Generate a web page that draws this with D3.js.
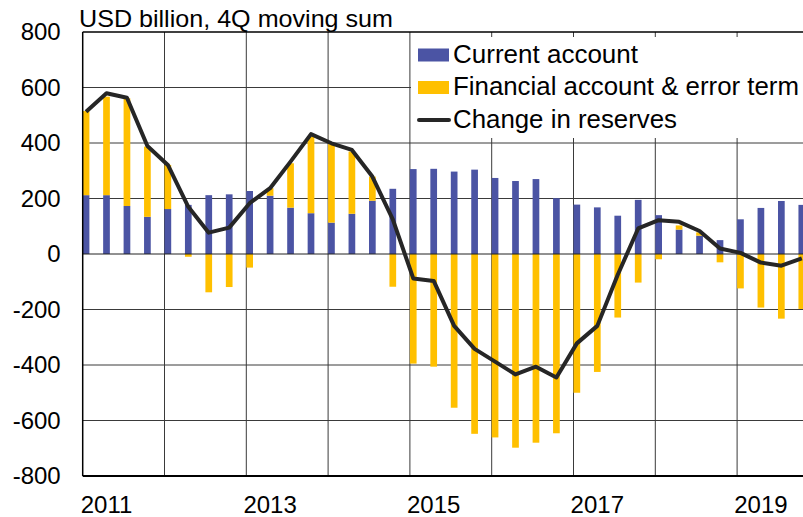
<!DOCTYPE html>
<html>
<head>
<meta charset="utf-8">
<script src="https://cdn.jsdelivr.net/npm/d3@7"></script>
<style>
  body { margin: 0; background: #fff; }
  text { font-family: "Liberation Sans", Arial, sans-serif; fill: #000; }
</style>
</head>
<body>
<div id="chart"></div>
<script>
// quarters, 2011Q1 .. 2019Q4
let quarters = [
  "2011Q1","2011Q2","2011Q3","2011Q4","2012Q1","2012Q2","2012Q3","2012Q4",
  "2013Q1","2013Q2","2013Q3","2013Q4","2014Q1","2014Q2","2014Q3","2014Q4",
  "2015Q1","2015Q2","2015Q3","2015Q4","2016Q1","2016Q2","2016Q3","2016Q4",
  "2017Q1","2017Q2","2017Q3","2017Q4","2018Q1","2018Q2","2018Q3","2018Q4",
  "2019Q1","2019Q2","2019Q3","2019Q4"
]
let years = [2011, 2012, 2013, 2014, 2015, 2016, 2017, 2018, 2019]
let yearLabels = [2011, 2013, 2015, 2017, 2019]
let yTicks = [-800, -600, -400, -200, 0, 200, 400, 600, 800]

let currentAccount = [212,212,173,134,162,177,212,215,227,210,167,147,113,145,192,235,
  306,307,297,304,274,263,270,201,178,168,138,195,140,88,66,50,125,166,191,177]
let financialAccount = [303,355,388,253,159,-10,-138,-119,-49,27,160,276,283,224,87,-118,
  -395,-406,-554,-648,-661,-698,-680,-646,-500,-425,-229,-103,-19,15,12,-30,-124,-193,-233,-198]
let reserves = [513,579,563,389,321,170,77,95,183,237,333,432,399,375,279,125,
  -88,-97,-259,-342,-388,-434,-406,-445,-322,-259,-75,92,122,116,83,20,4,-31,-42,-16]

let svgWidth = 803, svgHeight = 517
let plot = { left: 82.7, top: 32, bottom: 476, right: 803 }
let step = 20.45
let barW = 6.7

let svg = d3.select("#chart").append("svg")
  .attr("width", svgWidth)
  .attr("height", svgHeight)

// quarter index -> start of quarter slot
let x = d3.scaleLinear()
  .domain([0, quarters.length])
  .range([plot.left, plot.left + quarters.length * step])
let y = d3.scaleLinear()
  .domain([-800, 800])
  .range([plot.bottom, plot.top])

let data = quarters.map((q, i) => ({
  q: q, i: i, ca: currentAccount[i], fa: financialAccount[i], res: reserves[i]
}))

// gridlines
let grid = svg.append("g")
grid.selectAll(".hgrid")
  .data(yTicks.filter(v => v > -800 && v < 800 && v !== 0))
  .enter().append("line")
  .attr("x1", plot.left).attr("x2", plot.right)
  .attr("y1", d => y(d)).attr("y2", d => y(d))
  .attr("stroke", "#3a3a3a").attr("stroke-width", 1)
grid.selectAll(".vgrid")
  .data(years.slice(1))
  .enter().append("line")
  .attr("x1", d => x((d - 2011) * 4)).attr("x2", d => x((d - 2011) * 4))
  .attr("y1", plot.top).attr("y2", plot.bottom)
  .attr("stroke", "#3a3a3a").attr("stroke-width", 1)

// current account bars
svg.append("g").selectAll("rect")
  .data(data)
  .enter().append("rect")
  .attr("x", d => x(d.i))
  .attr("width", barW)
  .attr("y", d => y(d.ca))
  .attr("height", d => y(0) - y(d.ca))
  .attr("fill", "#4b54a4")

// financial account bars, stacked on the current account when positive
svg.append("g").selectAll("rect")
  .data(data)
  .enter().append("rect")
  .attr("x", d => x(d.i))
  .attr("width", barW)
  .attr("y", d => d.fa >= 0 ? y(d.ca + d.fa) : y(0))
  .attr("height", d => Math.abs(y(0) - y(d.fa)))
  .attr("fill", "#ffc000")

// zero line
svg.append("line")
  .attr("x1", plot.left).attr("x2", plot.right)
  .attr("y1", y(0)).attr("y2", y(0))
  .attr("stroke", "#222").attr("stroke-width", 1)

// change in reserves
let line = d3.line()
  .x(d => x(d.i) + barW / 2)
  .y(d => y(d.res))
svg.append("path")
  .datum(data)
  .attr("d", line)
  .attr("fill", "none")
  .attr("stroke", "#262626")
  .attr("stroke-width", 4)
  .attr("stroke-linejoin", "round")

// frame
svg.append("line")
  .attr("x1", plot.left).attr("x2", plot.right)
  .attr("y1", plot.top).attr("y2", plot.top)
  .attr("stroke", "#000").attr("stroke-width", 1.5)
svg.append("line")
  .attr("x1", plot.left).attr("x2", plot.right)
  .attr("y1", plot.bottom).attr("y2", plot.bottom)
  .attr("stroke", "#000").attr("stroke-width", 2)
svg.append("line")
  .attr("x1", plot.left).attr("x2", plot.left)
  .attr("y1", plot.top).attr("y2", plot.bottom)
  .attr("stroke", "#000").attr("stroke-width", 1.5)

// y axis labels (plain hyphen for negatives, as in the original)
let leftAxis = d3.axisLeft(y).tickValues(yTicks).tickSize(0).tickPadding(22)
  .tickFormat(d => String(d))
let yAxis = svg.append("g")
  .attr("transform", `translate(${plot.left}, 0)`)
  .call(leftAxis)
yAxis.select(".domain").remove()
yAxis.selectAll("text")
  .attr("font-size", 24)
  .attr("font-family", "Liberation Sans, Arial, sans-serif")
  .attr("fill", "#000")

// x axis labels, centred on the second quarter of each labelled year
svg.append("g").selectAll("text")
  .data(yearLabels)
  .enter().append("text")
  .attr("x", d => x((d - 2011) * 4 + 1) + barW / 2)
  .attr("y", 513)
  .attr("text-anchor", "middle")
  .attr("font-size", 24)
  .text(d => d)

// title
svg.append("text")
  .attr("x", 79)
  .attr("y", 27)
  .attr("font-size", 24)
  .attr("textLength", 314)
  .attr("lengthAdjust", "spacingAndGlyphs")
  .text("USD billion, 4Q moving sum")

// legend
let legend = svg.append("g")
legend.append("rect")
  .attr("x", 411).attr("y", 37)
  .attr("width", 392).attr("height", 101)
  .attr("fill", "#fff")
legend.append("rect")
  .attr("x", 418).attr("y", 48.5).attr("width", 31).attr("height", 13)
  .attr("fill", "#4b54a4")
legend.append("rect")
  .attr("x", 418).attr("y", 81).attr("width", 31).attr("height", 13)
  .attr("fill", "#ffc000")
legend.append("line")
  .attr("x1", 419).attr("x2", 449)
  .attr("y1", 120).attr("y2", 120)
  .attr("stroke", "#262626").attr("stroke-width", 4)
  .attr("stroke-linecap", "round")
let legendItems = [
  { label: "Current account", y: 62.5, w: 185 },
  { label: "Financial account & error term", y: 95, w: 346 },
  { label: "Change in reserves", y: 128, w: 224 }
]
legend.selectAll(".lt")
  .data(legendItems)
  .enter().append("text")
  .attr("x", 453)
  .attr("y", d => d.y)
  .attr("font-size", 25)
  .attr("textLength", d => d.w)
  .attr("lengthAdjust", "spacingAndGlyphs")
  .text(d => d.label)
</script>
</body>
</html>
